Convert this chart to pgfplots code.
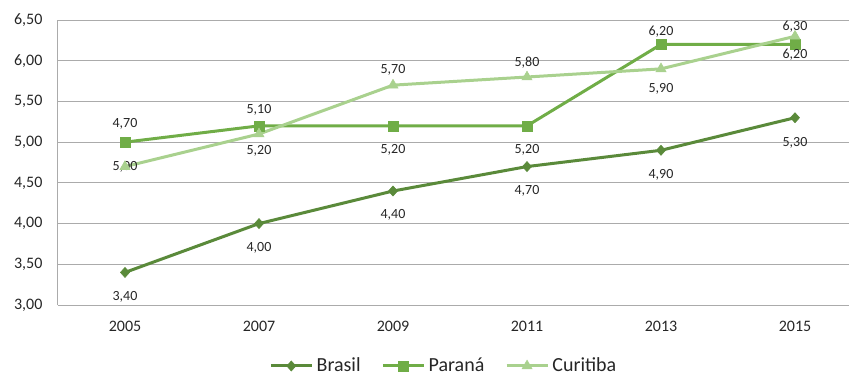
\documentclass[border=0pt]{standalone}
\usepackage{pgfplots}
\usepackage{pgfplotstable}
\pgfplotsset{compat=1.18}
\usepackage{fontspec}
\setmainfont{Carlito}

\definecolor{brasil}{HTML}{5A8A3A}
\definecolor{parana}{HTML}{70AD47}
\definecolor{curitiba}{HTML}{A9D18E}
\definecolor{gridc}{HTML}{ABABAB}
\definecolor{txt}{HTML}{262626}

% x: 0 = 2005 ... 5 = 2015; dy = label offset from the mark (px, up positive)
\pgfplotstableread{
x y dy
0 3.40 -24
1 4.00 -24
2 4.40 -24
3 4.70 -24
4 4.90 -25
5 5.30 -25
}\brasil
\pgfplotstableread{
x y dy
0 5.00 -24.5
1 5.20 -25
2 5.20 -24
3 5.20 -24
4 6.20 12.5
5 6.20 -10.5
}\parana
\pgfplotstableread{
x y dy
0 4.70 42.5
1 5.10 24
2 5.70 15
3 5.80 14
4 5.90 -19.5
5 6.30 9.5
}\curitiba

\pgfplotsset{
  vallabels/.style={
    nodes near coords,
    visualization depends on={\thisrow{dy} \as \labeldy},
    every node near coord/.append style={anchor=center, yshift=\labeldy*0.75pt,
      font=\fontsize{10.5}{12}\selectfont, text=txt},
  },
  brasilstyle/.style={color=brasil, line width=2.25pt, mark=diamond*, mark size=3.8pt,
    mark options={line width=0.4pt, xscale=1.2}},
  paranastyle/.style={color=parana, line width=2.25pt, mark=square*, mark size=3.8pt,
    mark options={line width=0.4pt}},
  curitibastyle/.style={color=curitiba, line width=2.25pt, mark=triangle*, mark size=4.4pt,
    mark options={line width=0.4pt}},
}

\begin{document}
\begin{tikzpicture}
\begin{axis}[
  scale only axis,
  width=593.25pt, height=213.75pt,
  xmin=-0.5, xmax=5.403,
  ymin=3, ymax=6.5,
  xtick={0,1,2,3,4,5},
  xticklabels={2005,2007,2009,2011,2013,2015},
  ytick={3,3.5,4,4.5,5,5.5,6,6.5},
  /pgf/number format/.cd, fixed, fixed zerofill, precision=2, use comma, assume math mode=true,
  /pgfplots/.cd,
  yticklabel style={anchor=east, inner sep=0pt, xshift=-11.5pt, font=\fontsize{12}{14}\selectfont, text=txt},
  xticklabel style={anchor=north, inner sep=0pt, yshift=-12.2pt, font=\fontsize{12}{14}\selectfont, text=txt},
  major tick length=0pt,
  axis lines*=left,
  axis line style={gridc, line width=0.75pt, -},
  ymajorgrids,
  grid style={gridc, line width=0.75pt},
  clip=false,
  legend style={at={(rel axis cs:0.4886,-0.214)}, anchor=center, draw=none, fill=none,
    legend columns=3, font=\fontsize{15}{18}\selectfont, text=txt,
    nodes={inner sep=2.5pt},
    /tikz/every even column/.append style={column sep=13pt}},
  legend image code/.code={
    \draw[mark repeat=2, mark phase=2] plot coordinates {(0pt,0pt) (15.4pt,0pt) (30.75pt,0pt)};},
]
\addplot[brasilstyle, vallabels, forget plot] table[x=x, y=y] {\brasil};
\addplot[paranastyle, vallabels, forget plot] table[x=x, y=y] {\parana};
\addplot[curitibastyle, vallabels, forget plot] table[x=x, y=y] {\curitiba};
\addlegendimage{brasilstyle}
\addlegendentry{Brasil}
\addlegendimage{paranastyle}
\addlegendentry{Paraná}
\addlegendimage{curitibastyle}
\addlegendentry{Curitiba}
\end{axis}
\pgfresetboundingbox
\useasboundingbox (-43.5pt,-53.25pt) rectangle (593.25pt,228.75pt);
\end{tikzpicture}
\end{document}
